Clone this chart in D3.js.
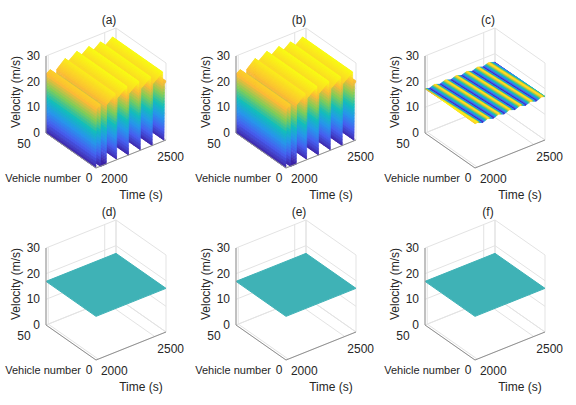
<!DOCTYPE html>
<html><head><meta charset="utf-8">
<script src="https://cdn.jsdelivr.net/npm/d3@7"></script>
<style>body{margin:0;background:#fff}text{font-family:"Liberation Sans",Arial,sans-serif;fill:#262626}</style>
</head><body><svg id="c" width="576" height="405"></svg>
<script>
var panelTitles = ["(a)", "(b)", "(c)", "(d)", "(e)", "(f)"];
var timeTicks = [2000, 2500];
var vehicleTicks = [0, 50];
var velocityTicks = [0, 10, 20, 30];
// leader speed profile (a),(b): keyframes read from the ridges
var timesA = [1980,1983,2018,2022,2070,2074,2150,2155,2163,2167,2255,2260,2268,2272,2360,2365,2373,2377,2465,2470,2478,2482,2570,2575,2583,2587,2600];
var speedA = [0,   23,  24,  1,   0,   23,  26,  2,   0,   24,  27,  2,   0,   24,  27,  2,   0,   24,  27,  2,   0,   24,  27,  2,   0,   22,  23];
var gapVehicles = 10;   // vehicles stopped during the first gap
// (c): small oscillation around the equilibrium speed
var timesC = [1980,2000,2047,2095,2142,2190,2237,2285,2332,2380,2427,2475,2522,2570,2600];
var speedC = [17.3,17.4,16.6,17.4,16.6,17.4,16.6,17.4,16.6,17.4,16.6,17.4,16.6,17.4,17.0];
var planeSpeed = 17;    // (d)-(f)

var parula = ["#3e26a8","#4760f0","#2797eb","#12bebb","#81cc59","#fcba37","#f9fb15"];
var svg = d3.select("#c");
var origins = [[96,168],[286,168],[475,168],[96,360],[286,360],[475,360]];

var tS = d3.scaleLinear().domain([1980, 2600]).range([0, 1]);
var nS = d3.scaleLinear().domain([0, 50]).range([0, 1]);
var zS = d3.scaleLinear().domain([0, 30]).range([0, -77]);
var profA = d3.scaleLinear().domain(timesA).range(speedA);
var profC = d3.scaleLinear().domain(timesC).range(speedC);

function drawPanel(i){
  var F = origins[i];
  var g = svg.append("g");
  function P(n, t, z){
    var nf = nS(n), tf = tS(t);
    return [F[0] - 50*nf + 70*tf, F[1] - 35*nf - 28*tf + zS(z)];
  }
  var line = d3.line();
  var grid = "#e3e3e3";
  // back walls + floor grid
  velocityTicks.forEach(function(z){
    g.append("path").attr("d", line([P(0,2600,z), P(50,2600,z), P(50,1980,z)])).attr("stroke", grid).attr("fill","none");
  });
  timeTicks.concat([1980, 2600]).forEach(function(t){
    g.append("path").attr("d", line([P(0,t,0), P(50,t,0), P(50,t,30)])).attr("stroke", grid).attr("fill","none");
  });
  vehicleTicks.forEach(function(n){
    g.append("path").attr("d", line([P(n,1980,0), P(n,2600,0), P(n,2600,30)])).attr("stroke", grid).attr("fill","none");
  });
  // surface
  var surf = g.append("g");
  if(i < 3){
    var f, col;
    if(i < 2){
      f = function(n, t){ return (n < gapVehicles && t > timesA[2] && t < timesA[5]) ? 0 : profA(t); };
      col = d3.scaleLinear().domain(d3.range(7).map(function(k){return k*27/6;})).range(parula);
    } else {
      f = function(n, t){ return profC(t + 0.6*n); };
      col = d3.scaleLinear().domain(d3.range(7).map(function(k){return 16.6 + k*0.8/6;})).range(parula);
    }
    var ns = d3.range(0, 50.01, 2), ts = d3.range(1980, 2600.1, 2);
    var cells = [];
    for(var a = 0; a < ns.length-1; a++) for(var b = 0; b < ts.length-1; b++){
      var n0 = ns[a], n1 = ns[a+1], t0 = ts[b], t1 = ts[b+1];
      var v = [f(n0,t0), f(n1,t0), f(n1,t1), f(n0,t1)];
      var span = d3.max(v) - d3.min(v);
      var k = i < 2 ? Math.max(1, Math.ceil(span / 1.2)) : 1;
      // split steep cells into strips so the colour follows the height
      for(var s = 0; s < k; s++){
        var u0 = s / k, u1 = (s + 1) / k;
        var a0 = v[0] + (v[3]-v[0])*u0, a1 = v[0] + (v[3]-v[0])*u1;
        var b0 = v[1] + (v[2]-v[1])*u0, b1 = v[1] + (v[2]-v[1])*u1;
        var ta = t0 + (t1-t0)*u0, tb = t0 + (t1-t0)*u1;
        cells.push({d: nS(n0+1) + tS((ta+tb)/2), pts: [P(n0,ta,a0), P(n1,ta,b0), P(n1,tb,b1), P(n0,tb,a1)], v: (a0+a1+b0+b1)/4});
      }
    }
    cells.sort(function(p, q){ return q.d - p.d; });
    surf.selectAll("path").data(cells).enter().append("path")
      .attr("d", function(c){ return line(c.pts) + "Z"; })
      .attr("fill", function(c){ return col(c.v); })
      .attr("stroke", function(c){ return col(c.v); }).attr("stroke-width", 0.6);
  } else {
    surf.append("path").attr("d", line([P(0,1980,planeSpeed), P(50,1980,planeSpeed), P(50,2600,planeSpeed), P(0,2600,planeSpeed)]) + "Z")
      .attr("fill", "#3fb2b6").attr("stroke", "#3fb2b6");
  }
  // axes
  var ax = "#909090", fs = 11;
  g.append("path").attr("d", line([P(50,1980,0), P(50,1980,30)])).attr("stroke", ax).attr("fill","none");
  g.append("path").attr("d", line([P(50,1980,0), P(0,1980,0), P(0,2600,0)])).attr("stroke", ax).attr("fill","none");
  velocityTicks.forEach(function(z){
    var p = P(50,1980,z);
    g.append("text").attr("x", p[0]-6).attr("y", p[1]+4).attr("text-anchor","end").attr("font-size",fs+1).text(z);
  });
  var p50 = P(50,1980,0), p0 = P(0,1980,0);
  g.append("text").attr("x", p50[0]-22).attr("y", p50[1]+15).attr("text-anchor","middle").attr("font-size",fs+1).text(vehicleTicks[1]);
  g.append("text").attr("x", p0[0]-7).attr("y", p0[1]+14).attr("text-anchor","middle").attr("font-size",fs+1).text(vehicleTicks[0]);
  timeTicks.forEach(function(t){
    var p = P(0,t,0);
    g.append("text").attr("x", p[0]+16).attr("y", p[1]+16).attr("text-anchor","middle").attr("font-size",fs+1).text(t);
  });
  g.append("text").attr("x", p0[0]-15).attr("y", p0[1]+14).attr("text-anchor","end").attr("font-size",fs).text("Vehicle number");
  g.append("text").attr("x", F[0]+45).attr("y", F[1]+31).attr("text-anchor","middle").attr("font-size",fs+1).text("Time (s)");
  g.append("text").attr("transform", "translate(" + (F[0]-76) + "," + (F[1]-76) + ") rotate(-90)")
    .attr("text-anchor","middle").attr("font-size",fs+1).text("Velocity (m/s)");
  g.append("text").attr("x", F[0]+13).attr("y", F[1]-144).attr("text-anchor","middle").attr("font-size",fs+1).text(panelTitles[i]);
}
d3.range(6).forEach(drawPanel);
</script></body></html>
